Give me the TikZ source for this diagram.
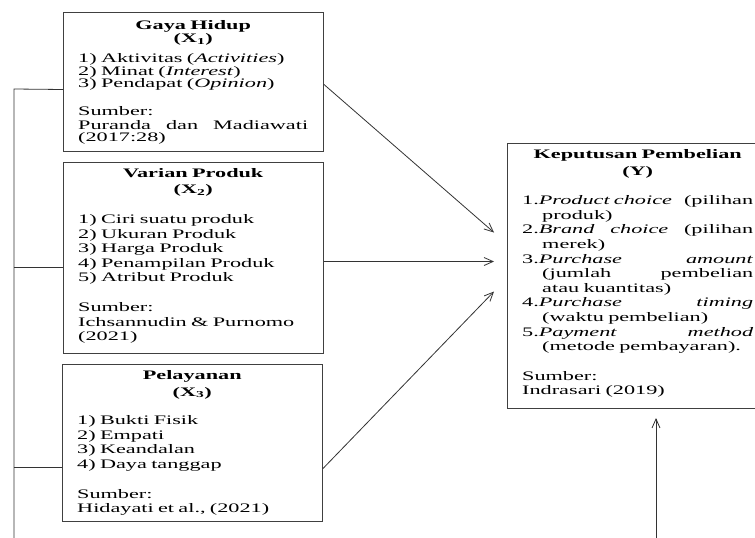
\documentclass[tikz,border=0pt]{standalone}
\usepackage{fontspec}
\setmainfont{Liberation Serif}[FakeStretch=1.71]
\usetikzlibrary{arrows.meta}

% centred bold title line inside a box
\newcommand{\judul}[1]{\hspace*{\fill}\textbf{#1}\hfill\null}

\begin{document}
\begin{tikzpicture}[x=1pt, y=-1pt,
    box/.style={draw=black!75, line width=1pt, inner sep=0pt, anchor=north west},
    info/.style={inner sep=0pt, anchor=base west, align=left, text width=230pt,
                 font=\fontsize{13}{14.6}\selectfont},
    arr/.style={-{Straight Barb[length=9pt,width=8pt]}, draw=black!80, line width=0.8pt},
    link/.style={draw=black!80, line width=0.8pt}]
    \useasboundingbox (0,0) rectangle (755,538);
    \clip (0,0) rectangle (755,538);

    % Variabel bebas
    \node[box, minimum width=260pt, minimum height=139pt] (x1) at (63,12) {};
    \node[box, minimum width=260pt, minimum height=191pt] (x2) at (63,162) {};
    \node[box, minimum width=260pt, minimum height=157pt] (x3) at (62,364) {};

    % Variabel terikat
    \node[box, minimum width=263pt, minimum height=265pt] (y) at (507,143) {};

    % Isi kotak
    \node[info, font=\fontsize{13}{12.5}\selectfont] (x1txt) at (78,29.3) {%
        \judul{Gaya Hidup}\\[1pt]
        \judul{(X\textsubscript{1})}\\[7.5pt]
        1) Aktivitas (\textit{Activities})\\
        2) Minat (\textit{Interest})\\
        3) Pendapat (\textit{Opinion})\\[15pt]
        Sumber:\\[1.5pt]
        Puranda \hfill dan \hfill Madiawati\\
        (2017:28)};

    \node[info] (x2txt) at (78,177.3) {%
        \judul{Varian Produk}\\[2pt]
        \judul{(X\textsubscript{2})}\\[15pt]
        1) Ciri suatu produk\\
        2) Ukuran Produk\\
        3) Harga Produk\\
        4) Penampilan Produk\\
        5) Atribut Produk\\[15pt]
        Sumber:\\
        Ichsannudin \& Purnomo\\
        (2021)};

    \node[info] (x3txt) at (77,379.5) {%
        \judul{Pelayanan}\\[2pt]
        \judul{(X\textsubscript{3})}\\[14pt]
        1) Bukti Fisik\\
        2) Empati\\
        3) Keandalan\\
        4) Daya tanggap\\[15pt]
        Sumber:\\
        Hidayati et al., (2021)};

    \node[info, text width=231pt] (ytxt) at (522,158.4) {%
        \judul{Keputusan Pembelian}\\[2pt]
        \judul{(Y)}\\[15pt]
        1.\textit{Product choice} \hfill (pilihan\\
        \hspace*{20pt}produk)\\
        2.\textit{Brand} \hfill \textit{choice} \hfill (pilihan\\
        \hspace*{20pt}merek)\\
        3.\textit{Purchase} \hfill \textit{amount}\\
        \hspace*{20pt}(jumlah \hfill pembelian\\
        \hspace*{20pt}atau kuantitas)\\
        4.\textit{Purchase} \hfill \textit{timing}\\
        \hspace*{20pt}(waktu pembelian)\\
        5.\textit{Payment} \hfill \textit{method}\\
        \hspace*{20pt}(metode pembayaran).\\[15pt]
        Sumber:\\
        Indrasari (2019)};

    % Garis penghubung kiri
    \coordinate (busTop) at (14,89);
    \coordinate (busEnd) at (14,545);
    \coordinate (x1in) at ([yshift=-7.5pt]x1.west);
    \coordinate (x2in) at ([yshift=-9.5pt]x2.west);
    \coordinate (x3in) at ([yshift=-24.5pt]x3.west);
    \draw[link] (busEnd) -- (busTop) -- (x1in);
    \draw[link] (x2in) -- (busTop |- x2in);
    \draw[link] (x3in) -- (busTop |- x3in);

    % Panah ke Y
    \draw[arr] ([yshift=-2.5pt]x1.east) -- ([xshift=-13pt,yshift=43.5pt]y.west);
    \draw[arr] ([yshift=-3.5pt]x2.east) -- ([xshift=-13pt,yshift=14.5pt]y.west);
    \draw[arr] ([yshift=-25.5pt]x3.east) -- ([xshift=-13pt,yshift=-15.5pt]y.west);

    \coordinate (yfrom) at (656,545);
    \coordinate (ybot) at ([yshift=-9pt]y.south);
    \draw[arr] (yfrom) -- (yfrom |- ybot);
\end{tikzpicture}
\end{document}
